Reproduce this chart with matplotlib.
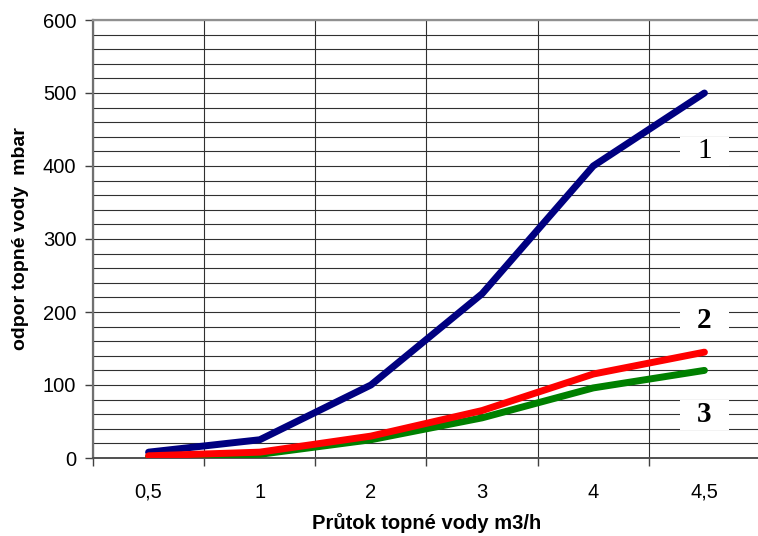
import matplotlib
matplotlib.use("Agg")
from matplotlib import pyplot as plt
from matplotlib.patches import Rectangle
from matplotlib.ticker import MultipleLocator, FixedLocator

# data
flow = ["0,5", "1", "2", "3", "4", "4,5"]
curve1 = [8, 25, 100, 225, 400, 500]
curve2 = [3, 8, 30, 65, 115, 145]
curve3 = [2, 5, 25, 55, 96, 120]
curve_labels = ["1", "2", "3"]
label_y = [420, 188, 59]
label_bold = [False, True, True]

plt.rcParams['font.family'] = ['Liberation Sans', 'DejaVu Sans']

fig = plt.figure(figsize=(7.58, 5.36), dpi=100)
ax = fig.add_axes([93 / 758, 78 / 536, 667 / 758, 438 / 536])

x = list(range(len(flow)))
ax.plot(x, curve1, c='#000080', lw=5.0, solid_capstyle='round', zorder=5)
ax.plot(x, curve3, c='#008000', lw=5.0, solid_capstyle='round', zorder=5)
ax.plot(x, curve2, c='#ff0000', lw=5.0, solid_capstyle='round', zorder=6)

ax.set_xlim(-0.5, len(flow) - 0.5)
ax.set_ylim(0, 600)

# category boundaries as major ticks, labels at centres
ax.xaxis.set_major_locator(FixedLocator([i - 0.5 for i in range(len(flow) + 1)]))
ax.xaxis.set_minor_locator(FixedLocator(x))
ax.set_xticklabels([], minor=False)
ax.set_xticks(x, flow, minor=True)
ax.tick_params(axis='x', which='major', length=6, width=1, color='#404040', direction='out')
ax.tick_params(axis='x', which='minor', length=0, pad=18, labelsize=14.5)

ax.yaxis.set_major_locator(MultipleLocator(100))
ax.yaxis.set_minor_locator(MultipleLocator(20))
ax.tick_params(axis='y', which='major', length=6, width=1, color='#404040', pad=6, labelsize=14.5)
ax.tick_params(axis='y', which='minor', length=0)

ax.grid(True, axis='x', which='major', color='#303030', lw=0.8)
ax.grid(True, axis='y', which='both', color='#303030', lw=0.8)
ax.set_axisbelow(True)

ax.spines['right'].set_visible(False)
ax.spines['top'].set_color('#909090')
ax.spines['top'].set_linewidth(1.6)
ax.spines['left'].set_color('#707070')
ax.spines['left'].set_linewidth(1.6)
ax.spines['bottom'].set_color('#505050')
ax.spines['bottom'].set_linewidth(1.4)

# curve numbers in white boxes
for lab, ly, b in zip(curve_labels, label_y, label_bold):
    ax.add_patch(Rectangle((x[-1] - 0.22, ly - 20), 0.44, 40, facecolor='white',
                           edgecolor='none', zorder=3))
    ax.text(x[-1], ly, lab, ha='center', va='center', fontsize=21,
            family='Liberation Serif', fontweight='bold' if b else 'normal', zorder=4)

ax.set_xlabel("Průtok topné vody m3/h", fontsize=14.5, fontweight='bold', labelpad=8)
ax.set_ylabel("odpor topné vody  mbar", fontsize=14, fontweight='bold', labelpad=10)

plt.savefig("out.png", dpi=100)
